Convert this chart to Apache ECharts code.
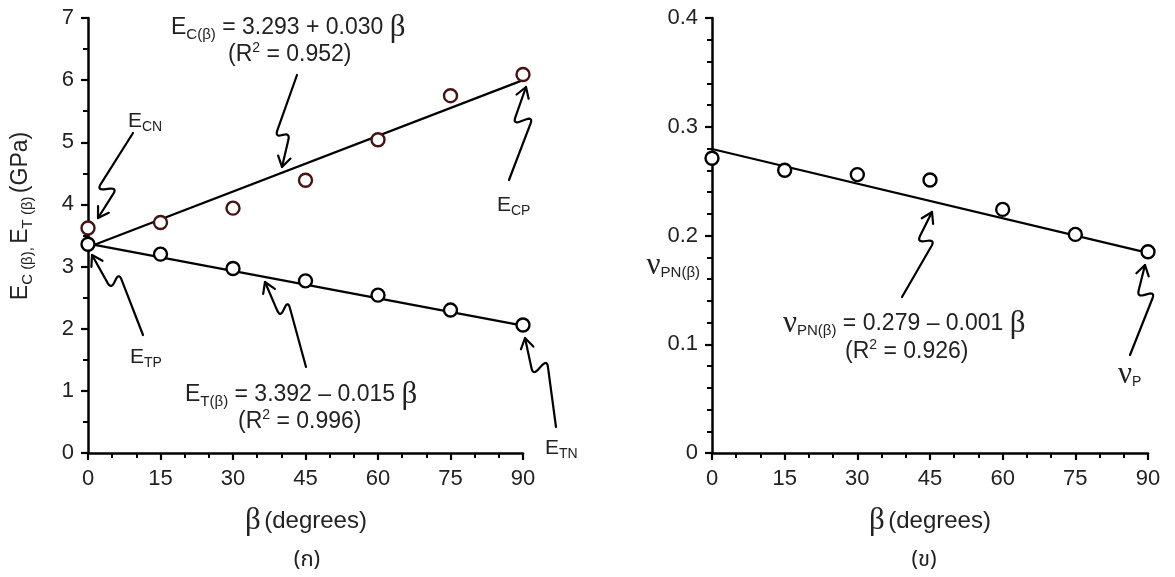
<!DOCTYPE html>
<html>
<head>
<meta charset="utf-8">
<script src="https://cdn.jsdelivr.net/npm/echarts@6/dist/echarts.min.js"></script>
<style>
html,body{margin:0;padding:0;background:#fff;}
#chart{width:1175px;height:577px;}
</style>
</head>
<body>
<div id="chart"></div>
<script>
// ---- data ----
const betaValues = [0, 15, 30, 45, 60, 75, 90];
const ecValues = [3.62, 3.71, 3.94, 4.39, 5.04, 5.75, 6.09];   // E_C(beta), GPa
const etValues = [3.36, 3.20, 2.97, 2.77, 2.54, 2.30, 2.06];   // E_T(beta), GPa
const nuValues = [0.271, 0.260, 0.256, 0.251, 0.224, 0.201, 0.185]; // nu_PN(beta)
const fitBeta = [0, 90];
const ecFitValues = [3.31, 6.00];
const etFitValues = [3.37, 2.05];
const nuFitValues = [0.2795, 0.184];
const leftYTicks = [0, 1, 2, 3, 4, 5, 6, 7];
const rightYTicks = [0, 0.1, 0.2, 0.3, 0.4];
const xTicks = [0, 15, 30, 45, 60, 75, 90];

const FONT = "'Liberation Sans', Arial, sans-serif";
const SERIF = "'Liberation Serif', 'DejaVu Serif', serif";
const pairs = (xs, ys) => xs.map((x, i) => [x, ys[i]]);

const chart = echarts.init(document.getElementById('chart'), null, {renderer: 'canvas'});

function xAxisDef(gridIndex) {
  return {
    type: 'value', gridIndex, min: xTicks[0], max: xTicks[xTicks.length - 1], interval: 15,
    axisLine: {show: true, onZero: false, lineStyle: {color: '#000', width: 2.5}},
    axisTick: {show: true, inside: false, length: 7, lineStyle: {color: '#000', width: 2.2}},
    minorTick: {show: true, splitNumber: 3, length: 5, lineStyle: {color: '#000', width: 2}},
    axisLabel: {color: '#222', fontSize: 22, fontFamily: FONT, margin: 15},
    splitLine: {show: false}
  };
}
function yAxisDef(gridIndex, max, interval, minorSplit, fmt) {
  return {
    type: 'value', gridIndex, min: 0, max, interval,
    axisLine: {show: true, onZero: false, lineStyle: {color: '#000', width: 2.5}},
    axisTick: {show: true, inside: false, length: 7, lineStyle: {color: '#000', width: 2.2}},
    minorTick: {show: true, splitNumber: minorSplit, length: 5, lineStyle: {color: '#000', width: 2}},
    axisLabel: {color: '#222', fontSize: 22, fontFamily: FONT, margin: 14, formatter: fmt},
    splitLine: {show: false}
  };
}

const option = {
  backgroundColor: '#fff',
  animation: false,
  grid: [
    {left: 88, top: 18, width: 435, height: 435},
    {left: 712, top: 18, width: 436, height: 435}
  ],
  xAxis: [xAxisDef(0), xAxisDef(1)],
  yAxis: [
    yAxisDef(0, leftYTicks[leftYTicks.length - 1], 1, 2, v => String(v)),
    yAxisDef(1, rightYTicks[rightYTicks.length - 1], 0.1, 5, v => (v === 0 ? '0' : v.toFixed(1)))
  ],
  series: [
    {type: 'line', xAxisIndex: 0, yAxisIndex: 0, data: pairs(fitBeta, ecFitValues), showSymbol: false,
     lineStyle: {color: '#000', width: 2.2}, z: 2, silent: true},
    {type: 'line', xAxisIndex: 0, yAxisIndex: 0, data: pairs(fitBeta, etFitValues), showSymbol: false,
     lineStyle: {color: '#000', width: 2.2}, z: 2, silent: true},
    {type: 'line', xAxisIndex: 1, yAxisIndex: 1, data: pairs(fitBeta, nuFitValues), showSymbol: false,
     lineStyle: {color: '#000', width: 2.2}, z: 2, silent: true},
    {type: 'scatter', xAxisIndex: 0, yAxisIndex: 0, data: pairs(betaValues, ecValues), symbol: 'circle', symbolSize: 13,
     itemStyle: {color: '#fff', borderColor: '#4a1212', borderWidth: 2.4, opacity: 1}, z: 5},
    {type: 'scatter', xAxisIndex: 0, yAxisIndex: 0, data: pairs(betaValues, etValues), symbol: 'circle', symbolSize: 13,
     itemStyle: {color: '#fff', borderColor: '#000', borderWidth: 2.4, opacity: 1}, z: 5},
    {type: 'scatter', xAxisIndex: 1, yAxisIndex: 1, data: pairs(betaValues, nuValues), symbol: 'circle', symbolSize: 13,
     itemStyle: {color: '#fff', borderColor: '#000', borderWidth: 2.4, opacity: 1}, z: 5}
  ]
};
chart.setOption(option);

// ---- annotations ----
const richBase = {
  m: {fontSize: 23, fontFamily: FONT, color: '#222', lineHeight: 28, verticalAlign: 'middle'},
  t: {fontSize: 24, fontFamily: FONT, color: '#222', lineHeight: 28, verticalAlign: 'middle'},
  s: {fontSize: 15, fontFamily: FONT, color: '#222', lineHeight: 14, verticalAlign: 'bottom'},
  p: {fontSize: 14, fontFamily: FONT, color: '#222', lineHeight: 14, verticalAlign: 'top'},
  b: {fontSize: 31, fontFamily: SERIF, color: '#222', lineHeight: 28, verticalAlign: 'middle'},
  n: {fontSize: 31, fontFamily: SERIF, color: '#222', lineHeight: 28, verticalAlign: 'middle'},
  l: {fontSize: 21, fontFamily: FONT, color: '#222', lineHeight: 26, verticalAlign: 'middle'},
  ls: {fontSize: 14, fontFamily: FONT, color: '#222', lineHeight: 12, verticalAlign: 'bottom'}
};
function txt(x, y, text, align, extra) {
  return Object.assign({
    type: 'text', x, y, z: 10, silent: true,
    style: {text, rich: richBase, align: align || 'left', verticalAlign: 'middle', fill: '#222'}
  }, extra || {});
}

// lightning-bolt arrow: rounded polyline + open arrow head
function boltPoints(pts, r) {
  const out = [pts[0].slice()];
  for (let i = 1; i < pts.length - 1; i++) {
    const p = pts[i], a = pts[i - 1], b = pts[i + 1];
    const la = Math.hypot(a[0] - p[0], a[1] - p[1]), lb = Math.hypot(b[0] - p[0], b[1] - p[1]);
    const ra = Math.min(r, la / 2), rb = Math.min(r, lb / 2);
    const q1 = [p[0] + (a[0] - p[0]) * ra / la, p[1] + (a[1] - p[1]) * ra / la];
    const q2 = [p[0] + (b[0] - p[0]) * rb / lb, p[1] + (b[1] - p[1]) * rb / lb];
    for (let k = 0; k <= 8; k++) {
      const t = k / 8, u = 1 - t;
      out.push([u * u * q1[0] + 2 * u * t * p[0] + t * t * q2[0],
                u * u * q1[1] + 2 * u * t * p[1] + t * t * q2[1]]);
    }
  }
  out.push(pts[pts.length - 1].slice());
  return out;
}
function headPoints(pts) {
  const t = pts[pts.length - 1], pr = pts[pts.length - 2];
  const len = Math.hypot(t[0] - pr[0], t[1] - pr[1]);
  const ux = (t[0] - pr[0]) / len, uy = (t[1] - pr[1]) / len;
  const L = 12, ang = 32 * Math.PI / 180;
  const w = s => {
    const c = Math.cos(s * ang), sn = Math.sin(s * ang);
    const dx = ux * c - uy * sn, dy = ux * sn + uy * c;
    return [t[0] - L * dx, t[1] - L * dy];
  };
  return [w(1), t.slice(), w(-1)];
}
function bolt(pts) {
  const st = {fill: null, stroke: '#000', lineWidth: 2.2, lineJoin: 'round', lineCap: 'round'};
  return [
    {type: 'polyline', z: 9, silent: true, shape: {points: boltPoints(pts, 7)}, style: st},
    {type: 'polyline', z: 9, silent: true, shape: {points: headPoints(pts)}, style: st}
  ];
}

const THAI = "'Noto Sans Thai', 'Noto Sans', 'DejaVu Sans', sans-serif";
const graphics = [
  // left y-axis title (rotated)
  txt(21, 216, '{m|E}{s|C (β),} {m|E}{s|T (β)} {m|(GPa)}', 'center', {rotation: Math.PI / 2}),
  // x-axis titles
  txt(306, 521, '{b|β} {t|(degrees)}', 'center'),
  txt(930, 521, '{b|β} {t|(degrees)}', 'center'),
  // right y-axis title
  txt(700, 266, '{n|ν}{s|PN(β)}', 'right'),
  // captions
  {type: 'text', x: 307, y: 562, silent: true,
   style: {text: '(ก)', fontSize: 22, fontFamily: THAI, fill: '#222', align: 'center', verticalAlign: 'middle'}},
  {type: 'text', x: 924, y: 562, silent: true,
   style: {text: '(ข)', fontSize: 22, fontFamily: THAI, fill: '#222', align: 'center', verticalAlign: 'middle'}},
  // equations
  txt(171, 28, '{m|E}{s|C(β)}{m| = 3.293 + 0.030 }{b|β}'),
  txt(228, 55, '{m|(R}{p|2}{m| = 0.952)}'),
  txt(185, 395, '{m|E}{s|T(β)}{m| = 3.392 – 0.015 }{b|β}'),
  txt(238, 422, '{m|(R}{p|2}{m| = 0.996)}'),
  txt(783, 324, '{n|ν}{s|PN(β)}{m| = 0.279 – 0.001 }{b|β}'),
  txt(845, 352, '{m|(R}{p|2}{m| = 0.926)}'),
  // point labels
  txt(128, 121, '{l|E}{ls|CN}'),
  txt(497, 205, '{l|E}{ls|CP}'),
  txt(130, 357, '{l|E}{ls|TP}'),
  txt(545, 448, '{l|E}{ls|TN}'),
  txt(1118, 375, '{n|ν}{ls|P}')
].concat(
  bolt([[133, 133], [97, 190], [117, 188], [98, 218]]),
  bolt([[297, 75], [275, 137], [290, 133], [282, 167]]),
  bolt([[509, 180], [533, 117], [513, 124], [526, 87]]),
  bolt([[143, 335], [119, 273], [111, 289], [92, 255]]),
  bolt([[306, 367], [288, 301], [280, 317], [265, 282]]),
  bolt([[556, 427], [547, 360], [533, 375], [525, 338]]),
  bolt([[902, 297], [935, 240], [917, 242], [932, 212]]),
  bolt([[1130, 355], [1155, 292], [1137, 297], [1145, 265]])
);
chart.setOption({graphic: graphics});
</script>
</body>
</html>
